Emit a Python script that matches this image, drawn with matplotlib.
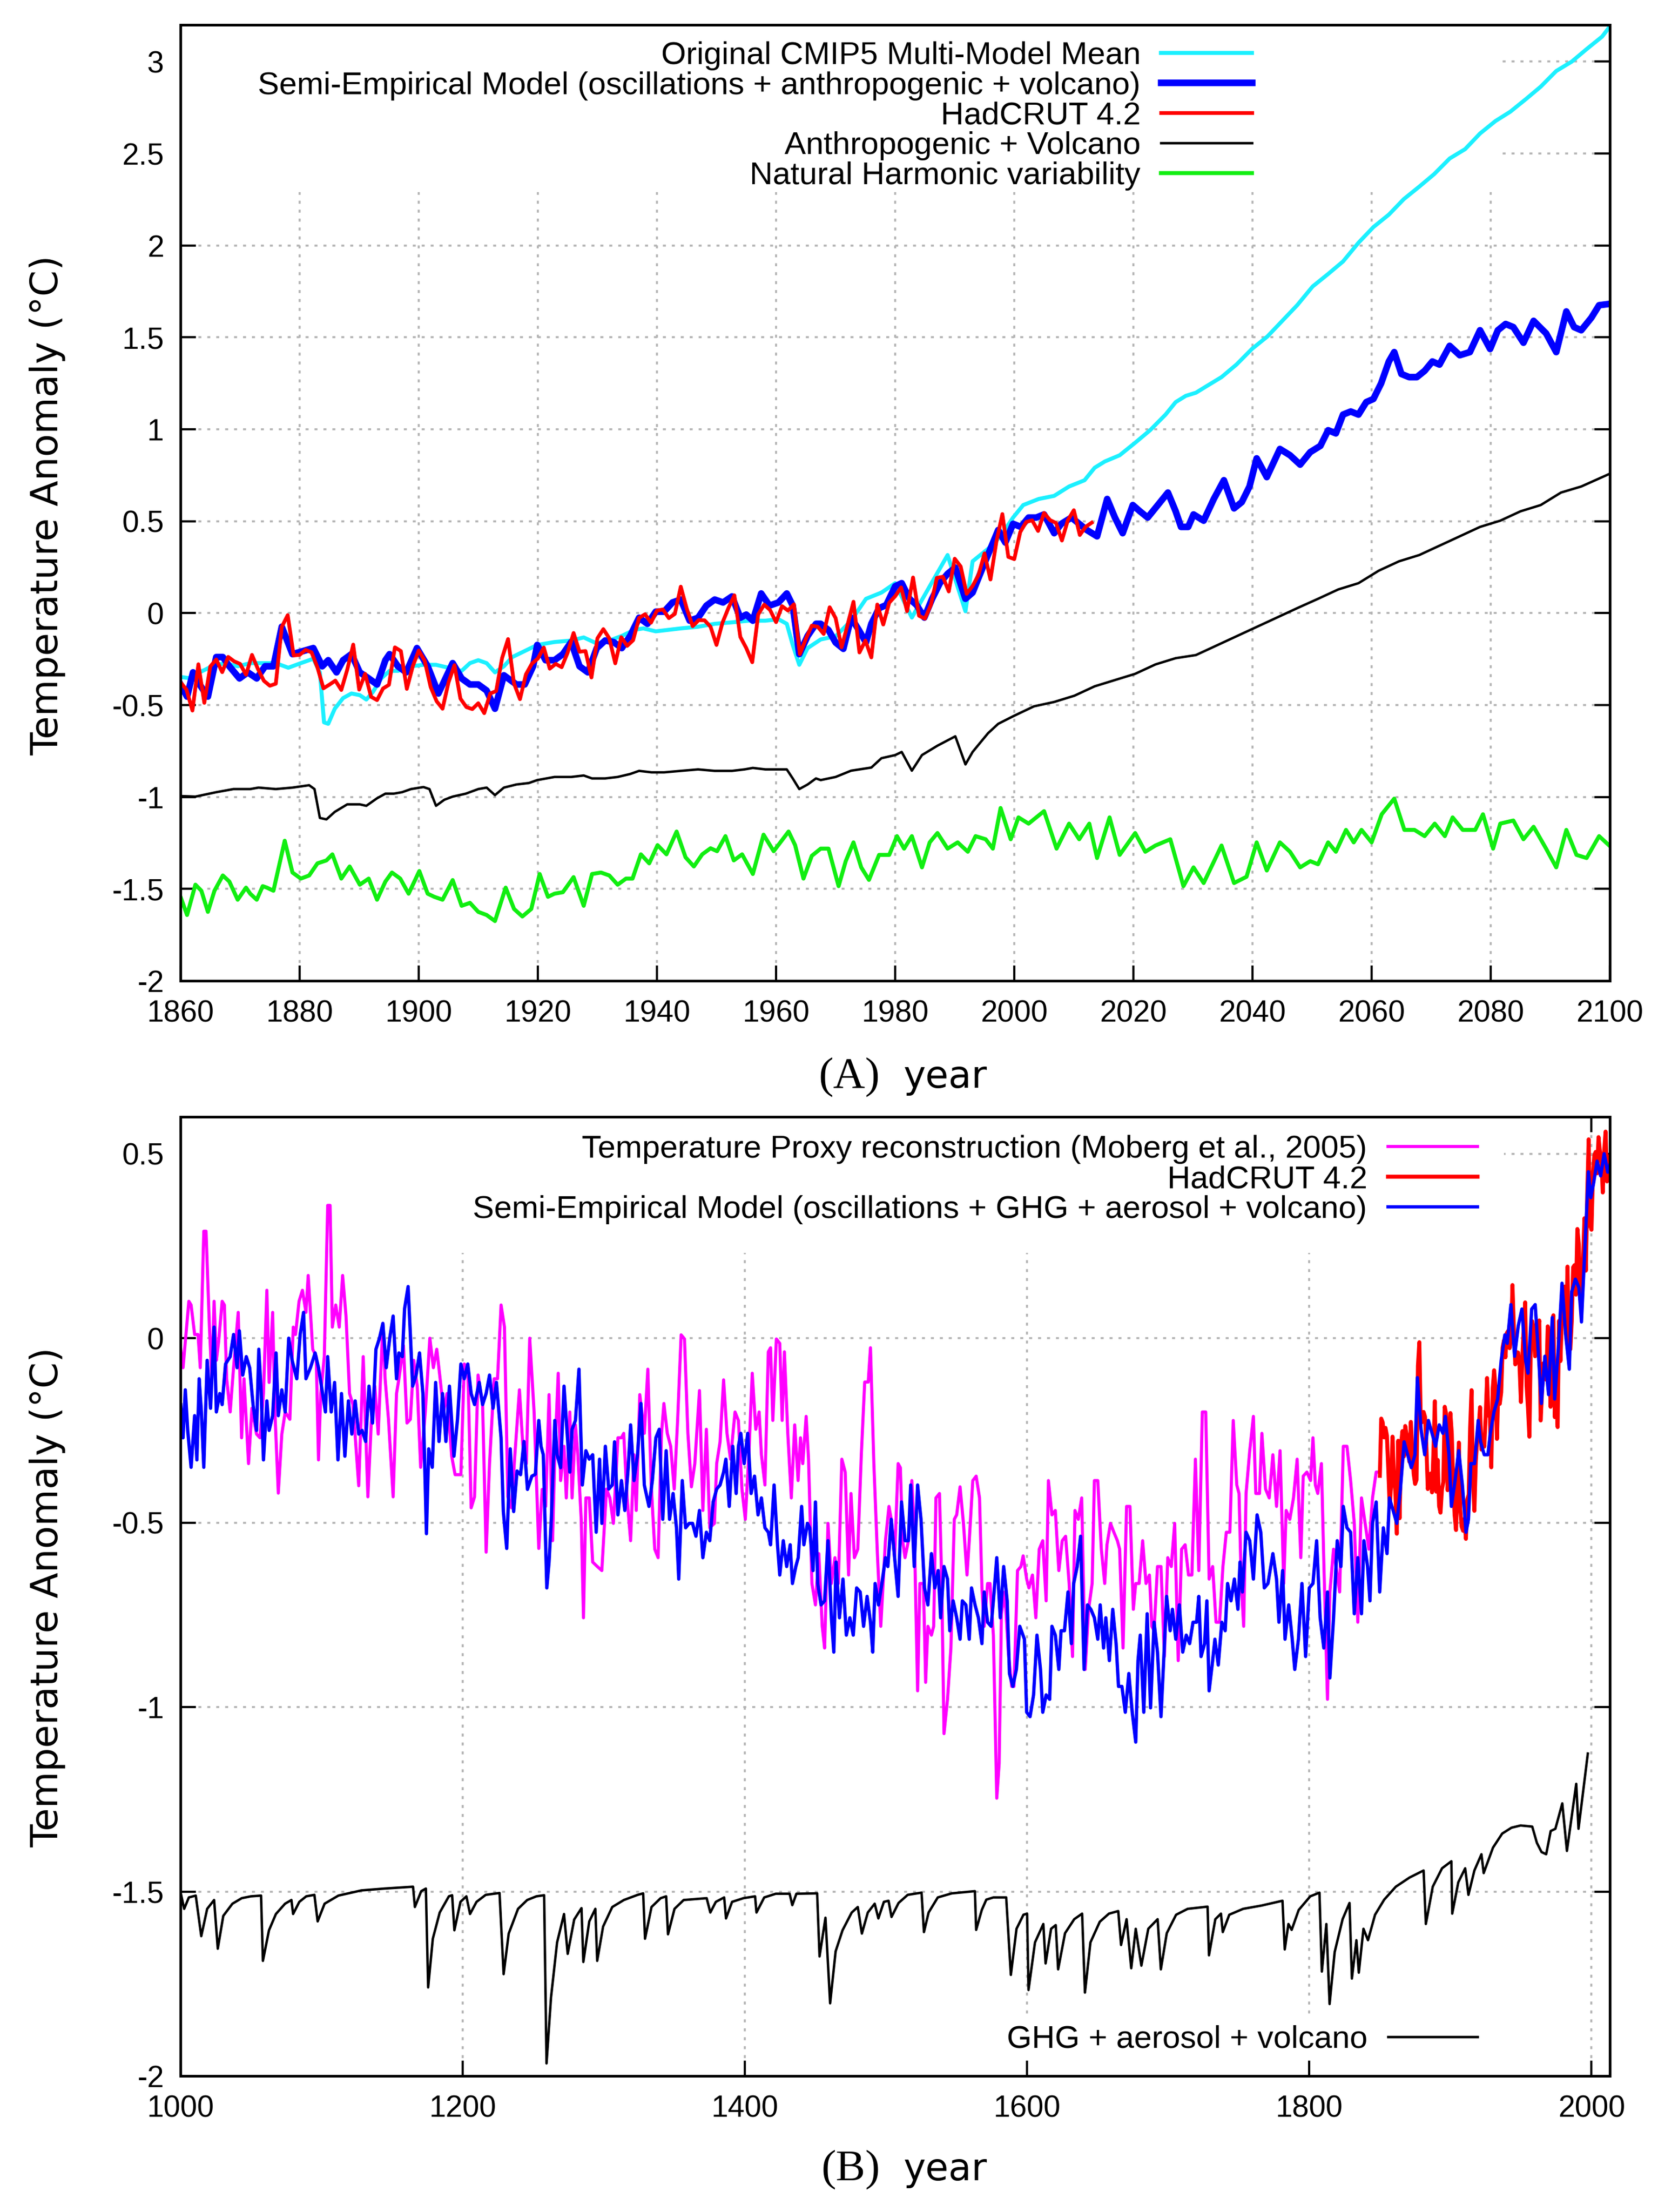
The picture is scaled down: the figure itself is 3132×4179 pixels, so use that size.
import matplotlib
matplotlib.use("Agg")
import matplotlib.pyplot as plt
from matplotlib.patches import Rectangle
from matplotlib.ticker import FixedLocator, FuncFormatter

plt.rcParams['axes.unicode_minus'] = False
plt.rcParams['font.family'] = ['Liberation Sans', 'DejaVu Sans']

# ------------------------------------------------------------------ data
# HadCRUT 4.2 annual global anomaly, 1850-2013
hadcrut_years = list(range(1850, 2014))
hadcrut_vals = [
    -0.373, -0.218, -0.228, -0.269, -0.243, -0.264, -0.354, -0.458, -0.395, -0.267,
    -0.376, -0.416, -0.530, -0.278, -0.488, -0.290, -0.252, -0.321, -0.238, -0.262,
    -0.276, -0.335, -0.227, -0.304, -0.368, -0.395, -0.384, -0.075, -0.011, -0.230,
    -0.227, -0.200, -0.213, -0.296, -0.409, -0.389, -0.367, -0.418, -0.307, -0.171,
    -0.416, -0.330, -0.455, -0.473, -0.410, -0.390, -0.186, -0.206, -0.412, -0.289,
    -0.203, -0.259, -0.402, -0.479, -0.520, -0.377, -0.283, -0.465, -0.511, -0.522,
    -0.490, -0.544, -0.437, -0.424, -0.244, -0.141, -0.383, -0.468, -0.333, -0.275,
    -0.247, -0.187, -0.302, -0.276, -0.294, -0.215, -0.108, -0.210, -0.206, -0.350,
    -0.137, -0.087, -0.137, -0.273, -0.131, -0.178, -0.147, -0.026, -0.006, -0.052,
    0.014, 0.020, -0.027, -0.004, 0.144, 0.025, -0.071, -0.038, -0.039, -0.074,
    -0.173, -0.052, 0.028, 0.097, -0.129, -0.190, -0.267, -0.007, 0.046, 0.017,
    -0.049, 0.038, 0.014, 0.048, -0.223, -0.140, -0.068, -0.074, -0.113, 0.032,
    -0.027, -0.186, -0.065, 0.062, -0.214, -0.149, -0.241, 0.047, -0.062, 0.057,
    0.092, 0.140, 0.011, 0.194, -0.014, -0.030, 0.045, 0.192, 0.198, 0.118,
    0.296, 0.254, 0.105, 0.148, 0.208, 0.325, 0.183, 0.390, 0.539, 0.306,
    0.294, 0.441, 0.496, 0.505, 0.447, 0.545, 0.506, 0.491, 0.395, 0.506,
    0.560, 0.425, 0.470, 0.492,
]

# Panel A: Original CMIP5 multi-model mean (year, value)
cmip5_mean = [
    (1860.0, -0.347), (1861.8, -0.355), (1863.2, -0.322), (1865.3, -0.289), (1867.4, -0.272),
    (1869.6, -0.289), (1871.7, -0.272), (1873.8, -0.272), (1876.0, -0.272), (1878.1, -0.297),
    (1880.2, -0.272), (1882.3, -0.248), (1883.4, -0.322), (1884.1, -0.594), (1884.8, -0.602),
    (1885.9, -0.520), (1887.3, -0.462), (1888.7, -0.437), (1890.1, -0.446), (1891.2, -0.470),
    (1892.3, -0.429), (1893.7, -0.355), (1895.1, -0.314), (1896.5, -0.314), (1898.7, -0.289),
    (1900.8, -0.281), (1902.9, -0.281), (1905.0, -0.297), (1907.2, -0.314), (1908.6, -0.272),
    (1910.0, -0.256), (1911.4, -0.272), (1912.8, -0.322), (1914.3, -0.289), (1915.7, -0.239),
    (1917.8, -0.206), (1919.9, -0.173), (1922.8, -0.157), (1925.6, -0.149), (1927.7, -0.132),
    (1929.9, -0.165), (1932.0, -0.149), (1934.1, -0.124), (1936.2, -0.091), (1937.7, -0.083),
    (1939.8, -0.099), (1941.9, -0.091), (1944.0, -0.083), (1946.9, -0.074), (1949.7, -0.058),
    (1952.6, -0.050), (1955.4, -0.041), (1958.2, -0.041), (1960.4, -0.033), (1961.8, -0.058),
    (1962.8, -0.173), (1963.9, -0.281), (1965.3, -0.190), (1967.5, -0.143), (1970.0, -0.126),
    (1972.6, -0.041), (1975.1, 0.078), (1977.7, 0.112), (1980.0, 0.163), (1982.8, -0.024),
    (1988.8, 0.316), (1991.8, 0.010), (1993.0, 0.282), (1995.6, 0.350), (1997.7, 0.418),
    (1999.8, 0.520), (2001.5, 0.588), (2004.1, 0.621), (2006.7, 0.638), (2009.2, 0.689),
    (2011.8, 0.723), (2013.5, 0.791), (2015.2, 0.825), (2017.7, 0.859), (2020.3, 0.927),
    (2022.8, 0.995), (2025.4, 1.080), (2027.1, 1.148), (2028.8, 1.182), (2030.5, 1.199),
    (2032.2, 1.233), (2034.8, 1.284), (2037.3, 1.352), (2039.9, 1.437), (2042.5, 1.505),
    (2045.0, 1.590), (2047.5, 1.675), (2050.1, 1.777), (2052.7, 1.845), (2055.2, 1.913),
    (2057.8, 2.015), (2060.3, 2.100), (2062.9, 2.168), (2065.4, 2.252), (2068.0, 2.320),
    (2070.5, 2.388), (2073.1, 2.473), (2075.7, 2.524), (2078.2, 2.609), (2080.8, 2.677),
    (2083.3, 2.728), (2085.9, 2.796), (2088.4, 2.864), (2091.0, 2.949), (2093.6, 3.000),
    (2096.1, 3.068), (2098.7, 3.136), (2099.9, 3.187),
]

# Panel A: semi-empirical model (oscillations + anthropogenic + volcano)
semi_model_a = [
    (1860.0, -0.388), (1861.1, -0.454), (1862.1, -0.322), (1863.2, -0.388), (1864.6, -0.454),
    (1866.0, -0.239), (1867.1, -0.239), (1868.2, -0.289), (1869.9, -0.355), (1871.3, -0.322),
    (1872.8, -0.355), (1874.2, -0.289), (1875.6, -0.289), (1877.0, -0.074), (1878.8, -0.223),
    (1880.6, -0.206), (1882.3, -0.190), (1883.8, -0.289), (1884.8, -0.256), (1886.2, -0.322),
    (1887.3, -0.256), (1888.7, -0.223), (1890.1, -0.322), (1891.6, -0.355), (1893.0, -0.388),
    (1894.4, -0.256), (1895.1, -0.223), (1896.5, -0.289), (1897.9, -0.322), (1899.7, -0.190),
    (1901.5, -0.289), (1903.3, -0.437), (1905.7, -0.272), (1907.2, -0.355), (1908.6, -0.388),
    (1910.0, -0.388), (1911.4, -0.421), (1912.8, -0.520), (1914.3, -0.338), (1916.4, -0.388),
    (1917.8, -0.388), (1919.2, -0.289), (1919.9, -0.173), (1921.3, -0.256), (1922.8, -0.256),
    (1924.2, -0.223), (1925.6, -0.157), (1927.0, -0.289), (1928.4, -0.322), (1929.9, -0.190),
    (1931.3, -0.149), (1932.7, -0.157), (1934.1, -0.190), (1935.5, -0.124), (1937.0, -0.025),
    (1938.4, -0.058), (1939.8, 0.008), (1941.2, 0.008), (1942.6, 0.058), (1944.0, 0.074),
    (1945.5, -0.041), (1946.9, -0.025), (1948.3, 0.041), (1949.7, 0.074), (1951.1, 0.058),
    (1952.6, 0.091), (1954.0, -0.025), (1955.0, -0.008), (1956.1, -0.041), (1957.5, 0.107),
    (1958.9, 0.041), (1960.4, 0.058), (1961.8, 0.107), (1962.8, 0.041), (1963.9, -0.223),
    (1965.3, -0.124), (1966.7, -0.058), (1967.5, -0.058), (1968.8, -0.092), (1970.0, -0.160),
    (1971.3, -0.194), (1972.6, -0.024), (1973.9, -0.092), (1975.1, -0.160), (1976.0, -0.058),
    (1977.3, 0.027), (1978.5, 0.044), (1980.0, 0.146), (1981.1, 0.163), (1982.4, 0.078),
    (1983.6, 0.044), (1984.9, -0.024), (1986.2, 0.078), (1987.5, 0.163), (1988.8, 0.214),
    (1990.1, 0.248), (1991.8, 0.078), (1993.0, 0.112), (1994.7, 0.248), (1996.0, 0.350),
    (1997.3, 0.452), (1998.5, 0.384), (1999.8, 0.486), (2001.1, 0.469), (2002.4, 0.520),
    (2003.7, 0.520), (2005.0, 0.537), (2006.7, 0.435), (2007.9, 0.486), (2009.6, 0.520),
    (2010.9, 0.486), (2012.2, 0.452), (2013.9, 0.418), (2015.6, 0.621), (2016.9, 0.520),
    (2018.2, 0.435), (2019.9, 0.588), (2021.1, 0.554), (2022.4, 0.520), (2024.1, 0.588),
    (2025.8, 0.656), (2027.1, 0.554), (2028.0, 0.469), (2029.2, 0.469), (2030.1, 0.537),
    (2031.8, 0.503), (2033.5, 0.621), (2035.2, 0.723), (2036.9, 0.570), (2038.2, 0.604),
    (2039.5, 0.689), (2040.7, 0.842), (2042.4, 0.740), (2044.6, 0.893), (2046.3, 0.859),
    (2048.0, 0.808), (2049.7, 0.876), (2051.4, 0.910), (2052.7, 0.995), (2054.0, 0.978),
    (2055.2, 1.080), (2056.5, 1.097), (2057.8, 1.080), (2059.1, 1.148), (2060.3, 1.165),
    (2061.6, 1.250), (2062.9, 1.369), (2063.8, 1.420), (2065.0, 1.301), (2066.3, 1.284),
    (2067.6, 1.284), (2068.9, 1.318), (2070.2, 1.369), (2071.4, 1.352), (2073.1, 1.454),
    (2074.8, 1.403), (2076.5, 1.420), (2078.2, 1.539), (2079.9, 1.437), (2081.2, 1.539),
    (2082.5, 1.573), (2083.8, 1.556), (2085.5, 1.471), (2087.2, 1.590), (2089.3, 1.522),
    (2091.0, 1.420), (2092.7, 1.641), (2094.0, 1.556), (2095.2, 1.539), (2096.9, 1.607),
    (2098.2, 1.675), (2099.9, 1.682),
]

# Panel A: anthropogenic + volcano
anthro_volcano = [
    (1860.0, -0.995), (1862.5, -0.998), (1866.0, -0.974), (1868.9, -0.957), (1871.7, -0.957),
    (1873.1, -0.949), (1876.0, -0.957), (1878.8, -0.949), (1881.6, -0.936), (1882.5, -0.957),
    (1883.4, -1.114), (1884.5, -1.122), (1885.9, -1.081), (1888.0, -1.040), (1890.1, -1.040),
    (1891.2, -1.048), (1893.0, -1.007), (1894.4, -0.982), (1895.8, -0.982), (1897.2, -0.974),
    (1898.7, -0.957), (1900.8, -0.946), (1901.8, -0.957), (1902.9, -1.048), (1904.3, -1.015),
    (1905.7, -0.998), (1907.9, -0.982), (1910.0, -0.957), (1911.4, -0.949), (1912.8, -0.990),
    (1914.3, -0.949), (1916.4, -0.932), (1918.5, -0.924), (1919.9, -0.908), (1922.8, -0.891),
    (1925.6, -0.891), (1927.7, -0.883), (1929.1, -0.899), (1931.3, -0.899), (1933.4, -0.891),
    (1935.5, -0.875), (1937.0, -0.858), (1939.1, -0.866), (1941.2, -0.866), (1944.0, -0.858),
    (1946.9, -0.850), (1949.7, -0.858), (1952.6, -0.858), (1954.7, -0.850), (1956.1, -0.842),
    (1958.2, -0.850), (1961.8, -0.850), (1962.8, -0.899), (1963.9, -0.957), (1965.3, -0.932),
    (1966.7, -0.899), (1967.5, -0.908), (1970.0, -0.891), (1972.6, -0.857), (1976.0, -0.840),
    (1977.7, -0.789), (1980.0, -0.772), (1981.1, -0.755), (1982.8, -0.857), (1984.5, -0.772),
    (1987.1, -0.721), (1990.1, -0.670), (1991.8, -0.823), (1993.0, -0.755), (1995.6, -0.653),
    (1997.3, -0.602), (1999.8, -0.561), (2003.3, -0.507), (2006.7, -0.483), (2010.1, -0.449),
    (2013.5, -0.398), (2016.9, -0.364), (2020.3, -0.330), (2023.7, -0.279), (2027.1, -0.245),
    (2030.5, -0.228), (2033.9, -0.177), (2037.3, -0.126), (2040.7, -0.075), (2044.1, -0.024),
    (2047.5, 0.027), (2051.0, 0.078), (2054.4, 0.129), (2057.8, 0.163), (2061.2, 0.231),
    (2064.6, 0.282), (2068.0, 0.316), (2071.4, 0.367), (2074.8, 0.418), (2078.2, 0.469),
    (2081.6, 0.503), (2085.0, 0.554), (2088.4, 0.588), (2091.8, 0.656), (2095.2, 0.689),
    (2099.9, 0.757),
]

# Panel A: natural harmonic variability (shifted)
harmonic = [
    (1860.0, -1.543), (1861.1, -1.642), (1862.5, -1.477), (1863.5, -1.510), (1864.6, -1.625),
    (1865.7, -1.510), (1867.1, -1.427), (1868.2, -1.460), (1869.6, -1.559), (1871.0, -1.493),
    (1871.7, -1.526), (1872.8, -1.559), (1873.8, -1.485), (1874.5, -1.493), (1875.6, -1.510),
    (1877.5, -1.238), (1878.8, -1.411), (1880.2, -1.444), (1881.6, -1.427), (1883.0, -1.361),
    (1884.5, -1.345), (1885.5, -1.312), (1887.0, -1.444), (1888.4, -1.378), (1890.1, -1.477),
    (1891.6, -1.444), (1893.0, -1.559), (1894.4, -1.460), (1895.5, -1.411), (1896.9, -1.444),
    (1898.3, -1.526), (1900.1, -1.403), (1901.5, -1.526), (1902.6, -1.543), (1904.0, -1.559),
    (1905.7, -1.452), (1907.2, -1.592), (1908.6, -1.576), (1910.0, -1.625), (1911.4, -1.642),
    (1912.8, -1.675), (1914.6, -1.493), (1916.0, -1.609), (1917.4, -1.650), (1918.9, -1.609),
    (1920.3, -1.419), (1921.7, -1.543), (1922.8, -1.526), (1924.2, -1.518), (1926.0, -1.436),
    (1927.7, -1.592), (1929.1, -1.419), (1930.6, -1.411), (1932.0, -1.427), (1933.4, -1.477),
    (1934.8, -1.444), (1935.9, -1.444), (1937.3, -1.312), (1938.7, -1.361), (1940.1, -1.262),
    (1941.6, -1.312), (1943.3, -1.188), (1944.8, -1.328), (1946.2, -1.378), (1947.6, -1.312),
    (1949.0, -1.279), (1950.1, -1.295), (1951.5, -1.213), (1952.9, -1.345), (1954.3, -1.312),
    (1956.1, -1.419), (1957.9, -1.205), (1959.6, -1.295), (1962.1, -1.188), (1963.2, -1.262),
    (1964.6, -1.444), (1966.0, -1.320), (1967.5, -1.281), (1968.8, -1.281), (1970.5, -1.485),
    (1971.7, -1.349), (1973.0, -1.247), (1974.3, -1.383), (1975.6, -1.451), (1977.3, -1.315),
    (1979.0, -1.315), (1980.3, -1.213), (1981.5, -1.281), (1982.8, -1.213), (1984.5, -1.383),
    (1985.8, -1.247), (1987.1, -1.196), (1988.8, -1.281), (1990.5, -1.247), (1992.2, -1.298),
    (1993.5, -1.213), (1995.2, -1.230), (1996.4, -1.281), (1997.7, -1.060), (1999.4, -1.230),
    (2000.7, -1.111), (2002.4, -1.145), (2005.0, -1.077), (2007.1, -1.281), (2009.2, -1.145),
    (2010.9, -1.230), (2012.6, -1.145), (2013.9, -1.332), (2016.0, -1.111), (2017.7, -1.315),
    (2020.3, -1.196), (2022.0, -1.298), (2023.7, -1.264), (2026.2, -1.230), (2028.4, -1.485),
    (2030.1, -1.383), (2031.8, -1.468), (2034.8, -1.264), (2036.9, -1.468), (2039.0, -1.434),
    (2040.7, -1.247), (2042.4, -1.400), (2044.6, -1.247), (2046.3, -1.298), (2048.0, -1.383),
    (2049.7, -1.349), (2051.0, -1.366), (2052.7, -1.247), (2054.0, -1.298), (2055.7, -1.179),
    (2057.0, -1.247), (2058.3, -1.179), (2060.0, -1.247), (2061.7, -1.094), (2063.8, -1.009),
    (2065.5, -1.179), (2067.2, -1.179), (2068.9, -1.213), (2070.6, -1.145), (2072.3, -1.213),
    (2073.6, -1.111), (2075.3, -1.179), (2077.4, -1.179), (2078.7, -1.094), (2080.4, -1.281),
    (2081.6, -1.145), (2083.8, -1.128), (2085.5, -1.230), (2087.2, -1.162), (2089.3, -1.281),
    (2091.0, -1.383), (2092.7, -1.179), (2094.4, -1.315), (2096.1, -1.332), (2098.2, -1.213),
    (2099.9, -1.264),
]

# Panel B: temperature proxy reconstruction (Moberg et al., 2005)
proxy_moberg = [
    (1000.2, -0.03), (1001.8, -0.08), (1005.9, 0.10), (1007.5, 0.09), (1010.0, 0.01),
    (1012.4, 0.01), (1014.0, -0.08), (1016.5, 0.29), (1018.1, 0.29), (1020.5, 0.03),
    (1022.2, -0.11), (1023.8, 0.10), (1025.4, -0.06), (1027.0, -0.01), (1029.5, 0.10),
    (1031.1, 0.09), (1032.7, -0.11), (1035.2, -0.20), (1037.6, -0.08), (1040.9, 0.07),
    (1043.3, -0.27), (1045.0, -0.11), (1048.2, -0.34), (1050.6, -0.19), (1053.9, -0.26),
    (1056.3, -0.27), (1058.8, -0.15), (1061.2, 0.13), (1062.8, -0.12), (1065.3, 0.07),
    (1066.9, -0.20), (1069.3, -0.42), (1071.8, -0.26), (1074.2, -0.20), (1077.5, -0.22),
    (1079.9, 0.03), (1081.5, 0.01), (1084.0, 0.10), (1086.4, 0.13), (1088.9, 0.07),
    (1090.5, 0.17), (1093.7, -0.03), (1096.2, -0.05), (1097.8, -0.33), (1099.4, -0.15),
    (1101.9, -0.05), (1104.3, 0.36), (1106.0, 0.36), (1107.6, 0.03), (1110.0, 0.09),
    (1112.5, 0.03), (1114.9, 0.17), (1117.3, 0.06), (1119.8, -0.15), (1122.2, -0.18),
    (1126.3, -0.40), (1129.5, -0.05), (1132.8, -0.43), (1135.2, -0.23), (1137.7, -0.13),
    (1140.1, -0.26), (1143.4, 0.04), (1145.0, -0.11), (1147.4, -0.22), (1150.7, -0.43),
    (1153.1, -0.15), (1154.8, -0.11), (1158.0, -0.02), (1160.5, -0.23), (1162.9, -0.22),
    (1165.3, -0.06), (1167.8, -0.13), (1170.2, -0.35), (1173.5, -0.20), (1176.7, 0.00),
    (1179.2, -0.08), (1181.6, -0.03), (1184.0, -0.11), (1186.5, -0.20), (1188.9, -0.15),
    (1192.2, -0.32), (1194.6, -0.37), (1198.7, -0.37), (1201.1, -0.07), (1203.6, -0.08),
    (1206.0, -0.46), (1208.4, -0.43), (1210.9, -0.10), (1214.1, -0.18), (1216.6, -0.58),
    (1219.0, -0.34), (1222.3, -0.11), (1224.7, -0.11), (1227.2, 0.09), (1229.6, 0.03),
    (1232.0, -0.43), (1234.5, -0.46), (1236.9, -0.32), (1240.2, -0.14), (1242.6, -0.29),
    (1245.1, -0.34), (1247.5, 0.00),
    (1250.6, -0.200), (1253.9, -0.570), (1256.3, -0.410), (1258.8, -0.456), (1261.2, -0.153),
    (1263.7, -0.549), (1265.3, -0.316), (1267.7, -0.095), (1269.4, -0.386), (1271.8, -0.293),
    (1273.4, -0.433), (1275.9, -0.200), (1277.5, -0.433), (1279.9, -0.235), (1281.6, -0.316),
    (1284.0, -0.491), (1285.6, -0.758), (1287.3, -0.433), (1289.7, -0.433), (1292.1, -0.607),
    (1295.4, -0.619), (1298.6, -0.630), (1301.9, -0.409), (1304.3, -0.433), (1306.8, -0.502),
    (1310.0, -0.270), (1312.5, -0.270), (1314.1, -0.258), (1316.5, -0.433), (1319.0, -0.549),
    (1321.4, -0.316), (1323.0, -0.467), (1325.5, -0.153), (1328.7, -0.258), (1331.2, -0.084),
    (1333.6, -0.398), (1336.1, -0.572), (1338.5, -0.595), (1340.9, -0.258), (1342.6, -0.177),
    (1345.0, -0.258), (1347.4, -0.293), (1349.9, -0.409), (1352.3, -0.223), (1354.8, 0.009),
    (1357.2, -0.002), (1359.6, -0.258), (1362.1, -0.403), (1364.5, -0.340), (1367.8, -0.142),
    (1370.2, -0.467), (1372.7, -0.247), (1375.1, -0.514), (1378.4, -0.502), (1380.0, -0.340),
    (1382.4, -0.281), (1384.9, -0.113), (1387.3, -0.258), (1389.8, -0.328), (1393.0, -0.200),
    (1395.4, -0.223), (1397.9, -0.409), (1400.3, -0.491), (1402.8, -0.316), (1405.2, -0.095),
    (1407.7, -0.247), (1410.1, -0.200), (1411.7, -0.316), (1414.2, -0.398), (1416.6, -0.037),
    (1418.2, -0.026), (1419.8, -0.223), (1422.3, -0.002), (1424.7, -0.014), (1426.4, -0.223),
    (1428.0, -0.037), (1430.4, -0.258), (1432.9, -0.433), (1435.3, -0.235), (1437.7, -0.386),
    (1439.4, -0.270), (1441.0, -0.340), (1443.4, -0.212), (1445.1, -0.328), (1447.5, -0.665),
    (1450.0, -0.723), (1452.4, -0.584), (1454.8, -0.781), (1456.5, -0.840), (1458.9, -0.502),
    (1461.3, -0.665), (1463.8, -0.595), (1466.2, -0.665), (1468.7, -0.328), (1471.1, -0.363),
    (1473.5, -0.642), (1475.2, -0.421), (1477.6, -0.595), (1480.0, -0.572), (1482.5, -0.316),
    (1484.9, -0.119), (1487.4, -0.119), (1489.0, -0.026), (1491.4, -0.340), (1493.9, -0.584),
    (1496.3, -0.781),
    (1499.6, -0.549), (1502.1, -0.456), (1503.7, -0.491), (1506.1, -0.595), (1508.6, -0.340),
    (1510.2, -0.351), (1511.8, -0.549), (1513.5, -0.595), (1515.9, -0.549), (1518.3, -0.386),
    (1520.0, -0.514), (1522.4, -0.956), (1524.0, -0.665), (1526.5, -0.665), (1528.1, -0.933),
    (1529.7, -0.781), (1532.2, -0.805), (1533.8, -0.781), (1535.4, -0.433), (1537.9, -0.421),
    (1539.5, -0.665), (1541.1, -1.072), (1543.6, -0.979), (1546.0, -0.840), (1548.4, -0.491),
    (1550.1, -0.479), (1552.5, -0.403), (1554.9, -0.502), (1557.4, -0.642), (1559.0, -0.549),
    (1561.5, -0.386), (1563.9, -0.374), (1566.3, -0.433), (1568.0, -0.677), (1569.6, -0.781),
    (1572.0, -0.665), (1573.7, -0.665), (1576.1, -0.805), (1578.5, -1.247), (1580.2, -1.153),
    (1581.8, -0.747), (1584.2, -0.688), (1586.7, -0.851), (1589.1, -0.944), (1590.7, -0.944),
    (1593.2, -0.630), (1595.6, -0.619), (1597.2, -0.590), (1599.7, -0.653), (1601.3, -0.677),
    (1603.8, -0.642), (1606.2, -0.758), (1608.6, -0.572), (1611.1, -0.549), (1613.5, -0.712),
    (1615.1, -0.386), (1617.6, -0.479), (1620.0, -0.467), (1622.5, -0.630), (1624.9, -0.549),
    (1627.3, -0.537), (1629.8, -0.665), (1632.2, -0.863), (1633.9, -0.467), (1636.3, -0.491),
    (1638.7, -0.433), (1641.2, -0.898), (1643.6, -0.735), (1646.1, -0.665), (1647.7, -0.386),
    (1650.1, -0.386), (1652.6, -0.572), (1655.0, -0.665), (1656.6, -0.560), (1659.1, -0.502),
    (1661.5, -0.526), (1664.0, -0.549), (1665.6, -0.572), (1668.0, -0.840), (1670.5, -0.456),
    (1672.9, -0.456), (1675.3, -0.735), (1677.0, -0.665), (1679.4, -0.665), (1681.9, -0.549),
    (1684.3, -0.665), (1686.7, -0.642), (1688.4, -0.781), (1690.0, -0.793), (1692.4, -0.619),
    (1694.9, -0.619), (1697.3, -0.863), (1699.7, -0.595), (1702.2, -0.619), (1704.6, -0.502),
    (1707.1, -0.874), (1709.5, -0.572), (1712.0, -0.560), (1714.4, -0.642), (1716.8, -0.642),
    (1719.3, -0.328), (1721.7, -0.630), (1724.2, -0.200), (1726.6, -0.200), (1729.0, -0.653),
    (1731.5, -0.619), (1733.9, -0.770), (1736.4, -0.770), (1738.8, -0.619), (1741.2, -0.526),
    (1743.7, -0.526), (1746.1, -0.223), (1748.6, -0.398), (1750.2, -0.421),
    (1751.8, -0.665), (1753.5, -0.781), (1755.2, -0.421), (1757.8, -0.305), (1760.4, -0.212),
    (1762.1, -0.421), (1764.7, -0.421), (1766.4, -0.258), (1769.0, -0.409), (1771.6, -0.433),
    (1774.2, -0.316), (1776.8, -0.456), (1779.3, -0.305), (1781.9, -0.665), (1783.6, -0.467),
    (1786.2, -0.491), (1788.8, -0.433), (1791.4, -0.328), (1794.0, -0.595), (1795.7, -0.374),
    (1798.3, -0.363), (1800.9, -0.386), (1802.6, -0.270), (1804.3, -0.398), (1806.0, -0.421),
    (1808.6, -0.340), (1810.3, -0.607), (1812.9, -0.979), (1814.6, -0.688), (1817.2, -0.572),
    (1819.8, -0.642), (1821.5, -0.688), (1824.1, -0.293), (1826.7, -0.293), (1829.3, -0.386),
    (1831.9, -0.502), (1834.4, -0.770), (1837.0, -0.433), (1839.6, -0.502), (1842.2, -0.572),
    (1844.8, -0.433), (1847.4, -0.363), (1849.1, -0.363),
]

# Panel B: semi-empirical model (oscillations + GHG + aerosol + volcano)
semi_model_b = [
    (1000.2, -0.18), (1001.8, -0.27), (1003.4, -0.14), (1005.1, -0.25), (1007.5, -0.35),
    (1010.0, -0.21), (1011.6, -0.33), (1013.2, -0.11), (1014.8, -0.20), (1016.5, -0.35),
    (1018.9, -0.06), (1021.3, -0.19), (1023.8, 0.03), (1025.4, -0.20), (1027.8, -0.15),
    (1029.5, -0.18), (1031.9, -0.07), (1035.2, -0.05), (1037.6, 0.01), (1040.1, -0.08),
    (1041.7, 0.02), (1044.1, -0.10), (1046.6, -0.05), (1049.0, -0.08), (1051.4, -0.18),
    (1053.9, -0.25), (1055.5, -0.03), (1057.1, -0.14), (1058.8, -0.33), (1061.2, -0.17),
    (1062.8, -0.25), (1065.3, -0.21), (1067.7, -0.04), (1069.3, -0.21), (1071.8, -0.14),
    (1074.2, -0.20), (1076.7, 0.00), (1079.1, -0.06), (1082.4, -0.11), (1084.8, 0.01),
    (1087.2, 0.07), (1088.9, -0.11), (1092.1, -0.08), (1095.4, -0.04), (1097.8, -0.08),
    (1100.3, -0.14), (1102.7, -0.20), (1104.3, -0.05), (1106.8, -0.20), (1109.2, -0.12),
    (1111.6, -0.33), (1114.1, -0.15), (1116.5, -0.32), (1119.0, -0.17), (1121.4, -0.26),
    (1123.8, -0.17), (1126.3, -0.26), (1128.7, -0.25), (1131.2, -0.28), (1133.6, -0.13),
    (1136.1, -0.23), (1138.5, -0.03), (1141.0, 0.00), (1143.4, 0.04), (1145.8, -0.08),
    (1148.3, 0.00), (1150.7, 0.06), (1153.1, -0.11), (1154.8, -0.04), (1157.2, -0.05),
    (1158.8, 0.08), (1161.3, 0.14), (1162.9, 0.01), (1164.5, -0.13), (1167.0, -0.10),
    (1169.4, -0.04), (1171.8, -0.15), (1174.3, -0.53), (1175.9, -0.30), (1178.4, -0.35),
    (1180.8, -0.12), (1183.2, -0.28), (1185.7, -0.15), (1188.1, -0.28), (1190.6, -0.13),
    (1193.8, -0.32), (1196.3, -0.22), (1198.7, -0.07), (1201.1, -0.11), (1203.6, -0.07),
    (1206.0, -0.15), (1208.4, -0.18), (1211.7, -0.12), (1214.1, -0.18), (1216.6, -0.15),
    (1219.0, -0.10), (1221.5, -0.19), (1223.9, -0.12), (1227.2, -0.27), (1228.8, -0.47),
    (1231.2, -0.57), (1233.7, -0.30), (1236.1, -0.47), (1238.5, -0.36), (1241.0, -0.37),
    (1243.4, -0.28), (1245.9, -0.41),
    (1249.0, -0.374), (1251.5, -0.369), (1253.9, -0.223), (1255.5, -0.293), (1257.1, -0.316),
    (1259.6, -0.677), (1261.2, -0.607), (1262.8, -0.491), (1265.3, -0.223), (1266.9, -0.316),
    (1269.4, -0.351), (1271.8, -0.130), (1273.4, -0.223), (1275.9, -0.363), (1277.5, -0.247),
    (1279.9, -0.223), (1282.4, -0.084), (1284.8, -0.398), (1287.3, -0.305), (1289.7, -0.328),
    (1292.1, -0.316), (1294.6, -0.526), (1297.0, -0.328), (1298.6, -0.502), (1301.1, -0.293),
    (1303.5, -0.409), (1306.0, -0.398), (1307.6, -0.281), (1310.0, -0.479), (1312.5, -0.386),
    (1314.9, -0.467), (1317.3, -0.351), (1319.0, -0.235), (1321.4, -0.386), (1323.9, -0.316),
    (1326.3, -0.177), (1328.7, -0.398), (1332.0, -0.456), (1334.4, -0.386), (1336.9, -0.270),
    (1339.3, -0.247), (1341.8, -0.491), (1344.2, -0.305), (1346.6, -0.491), (1349.1, -0.421),
    (1351.5, -0.514), (1353.1, -0.653), (1355.6, -0.386), (1358.0, -0.514), (1360.5, -0.502),
    (1362.9, -0.502), (1365.3, -0.537), (1367.8, -0.467), (1370.2, -0.595), (1372.7, -0.526),
    (1375.1, -0.549), (1377.5, -0.444), (1380.0, -0.409), (1382.4, -0.398), (1384.9, -0.363),
    (1386.5, -0.328), (1388.9, -0.456), (1391.4, -0.293), (1393.8, -0.421), (1395.4, -0.293),
    (1397.1, -0.258), (1399.5, -0.340), (1402.0, -0.258), (1404.4, -0.421), (1406.8, -0.374),
    (1409.3, -0.479), (1411.7, -0.433), (1414.2, -0.514), (1416.6, -0.526), (1418.2, -0.560),
    (1420.7, -0.398), (1423.1, -0.560), (1424.7, -0.642), (1427.2, -0.549), (1429.6, -0.619),
    (1432.1, -0.560), (1433.7, -0.665), (1436.1, -0.619), (1437.8, -0.595), (1440.2, -0.456),
    (1441.8, -0.560), (1444.3, -0.502), (1445.9, -0.514), (1448.3, -0.630), (1450.0, -0.444),
    (1451.6, -0.665), (1454.0, -0.723), (1456.5, -0.712), (1458.9, -0.549), (1461.3, -0.758),
    (1463.0, -0.851), (1464.6, -0.607), (1467.0, -0.758), (1469.5, -0.653), (1471.9, -0.805),
    (1474.4, -0.758), (1476.8, -0.805), (1479.2, -0.677), (1481.7, -0.688), (1484.1, -0.781),
    (1486.6, -0.700), (1489.0, -0.770), (1490.6, -0.851), (1492.3, -0.665), (1494.7, -0.723),
    (1497.1, -0.665),
    (1499.6, -0.595), (1501.3, -0.619), (1503.7, -0.491), (1506.1, -0.595), (1508.6, -0.700),
    (1511.0, -0.444), (1513.5, -0.549), (1515.9, -0.549), (1517.5, -0.398), (1520.0, -0.619),
    (1522.4, -0.398), (1524.8, -0.491), (1527.3, -0.677), (1529.7, -0.723), (1532.2, -0.584),
    (1534.6, -0.677), (1537.0, -0.630), (1538.7, -0.758), (1541.1, -0.619), (1543.6, -0.653),
    (1545.2, -0.793), (1547.6, -0.712), (1550.1, -0.758), (1552.5, -0.816), (1554.1, -0.712),
    (1556.6, -0.723), (1559.0, -0.816), (1560.6, -0.677), (1563.1, -0.723), (1565.5, -0.758),
    (1568.0, -0.828), (1569.6, -0.688), (1572.0, -0.770), (1574.5, -0.781), (1576.1, -0.712),
    (1578.5, -0.595), (1581.0, -0.758), (1583.4, -0.619), (1585.9, -0.712), (1587.5, -0.909),
    (1589.9, -0.944), (1592.4, -0.898), (1594.8, -0.781), (1598.1, -0.816), (1599.7, -1.014),
    (1602.1, -1.026), (1604.6, -0.967), (1607.0, -0.805), (1609.5, -0.898), (1611.1, -1.014),
    (1613.5, -0.967), (1616.0, -0.979), (1617.6, -0.781), (1620.0, -0.805), (1622.5, -0.898),
    (1624.1, -0.793), (1626.5, -0.793), (1629.0, -0.688), (1631.4, -0.828), (1633.0, -0.665),
    (1635.5, -0.619), (1637.9, -0.537), (1640.4, -0.898), (1642.8, -0.723), (1645.2, -0.735),
    (1647.7, -0.758), (1650.1, -0.816), (1651.8, -0.723), (1654.2, -0.840), (1655.8, -0.758),
    (1658.3, -0.874), (1660.7, -0.735), (1663.1, -0.828), (1664.8, -0.944), (1667.2, -0.944),
    (1669.6, -1.014), (1672.1, -0.909), (1674.5, -1.014), (1677.0, -1.095), (1678.6, -0.874),
    (1680.2, -0.805), (1682.7, -1.014), (1685.1, -0.747), (1687.5, -1.002), (1690.0, -0.770),
    (1692.4, -0.851), (1694.9, -1.026), (1696.5, -0.898), (1698.9, -0.700), (1701.4, -0.793),
    (1703.0, -0.735), (1705.4, -0.816), (1707.9, -0.723), (1710.3, -0.851), (1712.8, -0.805),
    (1715.2, -0.828), (1717.6, -0.770), (1720.1, -0.770), (1721.7, -0.700), (1723.3, -0.863),
    (1725.8, -0.828), (1727.4, -0.712), (1729.0, -0.956), (1731.5, -0.874), (1733.1, -0.816),
    (1735.5, -0.886), (1738.0, -0.770), (1740.4, -0.793), (1742.1, -0.665), (1744.5, -0.712),
    (1746.9, -0.653), (1749.4, -0.735),
    (1750.9, -0.607), (1752.6, -0.688), (1755.2, -0.526), (1757.8, -0.549), (1760.4, -0.653),
    (1763.0, -0.479), (1765.6, -0.526), (1768.1, -0.677), (1770.7, -0.665), (1774.2, -0.584),
    (1776.8, -0.653), (1778.5, -0.770), (1781.1, -0.630), (1782.8, -0.816), (1785.4, -0.723),
    (1787.9, -0.816), (1789.7, -0.898), (1792.3, -0.816), (1794.8, -0.665), (1797.4, -0.863),
    (1800.0, -0.677), (1802.6, -0.665), (1805.2, -0.549), (1807.7, -0.758), (1810.3, -0.840),
    (1812.9, -0.688), (1814.6, -0.921), (1817.2, -0.758), (1819.8, -0.549), (1822.4, -0.619),
    (1824.1, -0.456), (1826.7, -0.514), (1829.3, -0.526), (1831.9, -0.747), (1834.4, -0.595),
    (1837.0, -0.747), (1838.7, -0.549), (1841.3, -0.619), (1843.0, -0.712), (1844.8, -0.502),
    (1847.4, -0.444), (1849.9, -0.688), (1852.5, -0.514), (1855.1, -0.584), (1856.8, -0.433),
    (1859.4, -0.467), (1862.0, -0.502), (1864.6, -0.409), (1867.2, -0.281), (1869.7, -0.316),
    (1872.3, -0.351), (1874.9, -0.316), (1876.6, -0.107), (1879.2, -0.247), (1881.8, -0.316),
    (1884.4, -0.223), (1887.0, -0.258), (1889.5, -0.293), (1892.1, -0.235), (1894.7, -0.258),
    (1896.4, -0.212), (1899.0, -0.316), (1900.7, -0.456), (1903.3, -0.386), (1905.9, -0.305),
    (1908.5, -0.398), (1911.1, -0.526), (1912.8, -0.491), (1914.5, -0.340), (1917.1, -0.340),
    (1919.7, -0.223), (1921.4, -0.281), (1924.0, -0.316), (1926.6, -0.316), (1928.3, -0.258),
    (1930.9, -0.200), (1933.5, -0.165), (1936.0, -0.060), (1938.6, 0.009), (1940.3, -0.014),
    (1942.9, 0.091), (1945.5, -0.049), (1948.1, 0.033), (1950.7, 0.079), (1953.3, -0.060),
    (1955.0, -0.095), (1957.6, 0.079), (1960.1, 0.091), (1961.9, -0.014), (1964.5, -0.177),
    (1967.0, -0.049), (1969.6, -0.153), (1972.2, 0.056), (1973.9, -0.165), (1976.5, -0.026),
    (1979.1, 0.149), (1981.7, 0.009), (1984.3, -0.084), (1986.0, 0.126), (1988.6, 0.160),
    (1991.1, 0.137), (1992.9, 0.044), (1994.6, 0.184), (1997.8, 0.451), (1999.5, 0.381),
    (2001.5, 0.420), (2004.0, 0.480), (2006.5, 0.440), (2009.0, 0.500), (2011.5, 0.450),
    (2013.0, 0.470),
]

# Panel B: GHG + aerosol + volcano
ghg_aerosol_volcano = [
    (1000.0, -1.501), (1002.6, -1.547), (1005.9, -1.516), (1010.8, -1.511), (1014.7, -1.621),
    (1018.9, -1.547), (1023.8, -1.523), (1026.4, -1.655), (1030.3, -1.566), (1036.8, -1.533),
    (1043.4, -1.518), (1049.9, -1.513), (1057.1, -1.511), (1058.4, -1.688), (1062.7, -1.605),
    (1067.6, -1.561), (1074.1, -1.533), (1078.6, -1.523), (1079.8, -1.561), (1084.2, -1.528),
    (1089.1, -1.513), (1094.9, -1.509), (1097.2, -1.581), (1102.1, -1.533), (1111.9, -1.511),
    (1128.2, -1.497), (1144.5, -1.492), (1164.8, -1.487), (1166.1, -1.542), (1170.6, -1.499),
    (1173.9, -1.492), (1175.5, -1.760), (1178.8, -1.628), (1183.7, -1.557), (1190.2, -1.513),
    (1192.5, -1.510), (1194.1, -1.605), (1198.4, -1.528), (1202.6, -1.513), (1205.2, -1.561),
    (1209.8, -1.528), (1216.3, -1.509), (1226.1, -1.504), (1229.0, -1.724), (1232.6, -1.614),
    (1239.2, -1.547), (1245.7, -1.523), (1252.2, -1.513), (1257.7, -1.510), (1259.4, -1.966),
    (1262.6, -1.787), (1266.9, -1.638), (1271.8, -1.561), (1274.4, -1.669), (1279.0, -1.576),
    (1284.2, -1.545), (1285.5, -1.691), (1289.7, -1.581), (1294.0, -1.547), (1295.3, -1.688),
    (1299.5, -1.595), (1306.0, -1.542), (1314.2, -1.523), (1324.0, -1.509), (1327.9, -1.505),
    (1329.2, -1.628), (1333.8, -1.542), (1340.3, -1.518), (1344.2, -1.513), (1345.5, -1.616),
    (1350.1, -1.547), (1356.6, -1.523), (1372.9, -1.518), (1375.5, -1.557), (1379.4, -1.528),
    (1385.3, -1.516), (1386.6, -1.573), (1390.9, -1.528), (1399.0, -1.518), (1407.2, -1.513),
    (1408.2, -1.557), (1413.7, -1.516), (1421.9, -1.506), (1431.7, -1.506), (1433.6, -1.537),
    (1436.5, -1.506), (1451.2, -1.505), (1452.9, -1.676), (1457.1, -1.571), (1460.4, -1.803),
    (1464.3, -1.662), (1469.2, -1.605), (1475.7, -1.557), (1480.0, -1.542), (1482.9, -1.614),
    (1487.1, -1.557), (1492.0, -1.533), (1494.6, -1.573), (1498.5, -1.528), (1501.8, -1.525),
    (1503.9, -1.569), (1508.9, -1.531), (1515.4, -1.509), (1525.2, -1.503), (1526.9, -1.610),
    (1530.2, -1.557), (1536.7, -1.516), (1546.6, -1.505), (1563.0, -1.499), (1563.9, -1.604),
    (1567.9, -1.550), (1571.1, -1.522), (1576.1, -1.516), (1585.2, -1.516), (1588.5, -1.726),
    (1592.5, -1.601), (1597.4, -1.563), (1600.0, -1.560), (1601.0, -1.767), (1605.6, -1.638),
    (1611.5, -1.588), (1613.1, -1.695), (1617.0, -1.601), (1620.3, -1.591), (1622.0, -1.711),
    (1626.9, -1.613), (1633.4, -1.575), (1639.0, -1.560), (1641.0, -1.774), (1644.9, -1.638),
    (1651.5, -1.582), (1658.0, -1.560), (1664.6, -1.553), (1666.6, -1.645), (1670.5, -1.575),
    (1673.8, -1.708), (1677.0, -1.601), (1681.0, -1.701), (1685.9, -1.601), (1689.2, -1.588),
    (1692.5, -1.575), (1694.8, -1.711), (1699.0, -1.613), (1705.6, -1.563), (1713.8, -1.547),
    (1727.9, -1.541), (1728.9, -1.673), (1733.4, -1.575), (1737.4, -1.560), (1738.7, -1.610),
    (1743.3, -1.563), (1753.1, -1.547), (1766.2, -1.538), (1781.0, -1.525), (1782.6, -1.657),
    (1785.2, -1.588), (1787.5, -1.604), (1792.5, -1.550), (1800.7, -1.513), (1807.2, -1.503),
    (1808.9, -1.717), (1812.1, -1.588), (1814.4, -1.805), (1818.0, -1.664), (1823.6, -1.575),
    (1828.5, -1.531), (1830.2, -1.736), (1833.4, -1.632), (1835.1, -1.720), (1838.4, -1.601),
    (1841.6, -1.632), (1846.6, -1.563), (1853.1, -1.522), (1861.3, -1.487), (1871.1, -1.462),
    (1881.0, -1.443), (1882.6, -1.588), (1887.5, -1.487), (1894.1, -1.437), (1900.7, -1.418),
    (1901.3, -1.560), (1905.6, -1.475), (1910.5, -1.437), (1912.8, -1.509), (1917.0, -1.443),
    (1922.0, -1.399), (1923.6, -1.450), (1930.2, -1.381), (1936.7, -1.343), (1943.3, -1.327),
    (1949.8, -1.321), (1958.0, -1.324), (1961.3, -1.368), (1964.6, -1.393), (1967.9, -1.399),
    (1971.1, -1.336), (1974.4, -1.330), (1979.3, -1.261), (1982.6, -1.390), (1989.2, -1.208),
    (1990.8, -1.330), (1997.4, -1.126),
]

# Axis ticks
xticks_a = [1860, 1880, 1900, 1920, 1940, 1960, 1980, 2000, 2020, 2040, 2060, 2080, 2100]
yticks_a = [-2, -1.5, -1, -0.5, 0, 0.5, 1, 1.5, 2, 2.5, 3]
xticks_b = [1000, 1200, 1400, 1600, 1800, 2000]
yticks_b = [-2, -1.5, -1, -0.5, 0, 0.5]

labels_a = ["Original CMIP5 Multi-Model Mean",
            "Semi-Empirical Model (oscillations + anthropogenic + volcano)",
            "HadCRUT 4.2",
            "Anthropogenic + Volcano",
            "Natural Harmonic variability"]
labels_b = ["Temperature Proxy reconstruction (Moberg et al., 2005)",
            "HadCRUT 4.2",
            "Semi-Empirical Model (oscillations + GHG + aerosol + volcano)",
            "GHG + aerosol + volcano"]


def unzip(pairs):
    return [p[0] for p in pairs], [p[1] for p in pairs]


# ------------------------------------------------------------------ figure
W, H = 3132, 4179
fig = plt.figure(figsize=(W / 300, H / 300), dpi=300)
axA = fig.add_axes([341 / W, 1 - 1853 / H, 2700 / W, 1806 / H])
axB = fig.add_axes([341 / W, 1 - 3922 / H, 2700 / W, 1812 / H])

CYAN = '#1CF0FF'
BLUE = '#0000FF'
RED = '#FF0000'
GREEN = '#11EE11'
MAGENTA = '#FF00FF'
BLACK = '#000000'

TICKFONT = 13.7
LEGFONT = 14.5


def style(ax, xt, yt, xlim, ylim):
    ax.set_xlim(*xlim)
    ax.set_ylim(*ylim)
    ax.xaxis.set_major_locator(FixedLocator(xt))
    ax.yaxis.set_major_locator(FixedLocator(yt))
    fmt = FuncFormatter(lambda v, p: f'{v:g}')
    ax.xaxis.set_major_formatter(fmt)
    ax.yaxis.set_major_formatter(fmt)
    ax.tick_params(direction='in', length=7, width=1.0, top=True, right=True,
                   labelsize=TICKFONT, colors='black')
    ax.tick_params(axis='x', pad=8.5)
    ax.tick_params(axis='y', pad=7.5)
    ax.set_axisbelow(True)
    ax.grid(True, color='#b4b4b4', linestyle=(0, (1.5, 3)), linewidth=0.9)
    for s in ax.spines.values():
        s.set_linewidth(1.2)
        s.set_zorder(6)


# ---- Panel A
style(axA, xticks_a, yticks_a, (1860, 2100), (-2, 3.2))
axA.add_patch(Rectangle((0, 0.825), 0.921, 0.175, transform=axA.transAxes,
                        facecolor='white', edgecolor='none', zorder=1))
x, y = unzip(cmip5_mean)
axA.plot(x, y, color=CYAN, lw=1.8, label=labels_a[0], zorder=2)
x, y = unzip(semi_model_a)
axA.plot(x, y, color=BLUE, lw=3.0, label=labels_a[1], zorder=3)
axA.plot(hadcrut_years, hadcrut_vals, color=RED, lw=1.7, label=labels_a[2], zorder=4)
x, y = unzip(anthro_volcano)
axA.plot(x, y, color=BLACK, lw=1.1, label=labels_a[3], zorder=4)
x, y = unzip(harmonic)
axA.plot(x, y, color=GREEN, lw=1.8, label=labels_a[4], zorder=4)

axA.legend(loc='upper right', bbox_to_anchor=(0.7496, 0.983), frameon=False,
           markerfirst=False, handlelength=2.85, handletextpad=0.63,
           labelspacing=0.03, borderpad=0, borderaxespad=0,
           prop={'family': 'Liberation Sans', 'size': LEGFONT})

# ---- Panel B
style(axB, xticks_b, yticks_b, (1000, 2013), (-2, 0.6))
axB.add_patch(Rectangle((0, 0.858), 0.926, 0.142, transform=axB.transAxes,
                        facecolor='white', edgecolor='none', zorder=1))
x, y = unzip(proxy_moberg)
l1, = axB.plot(x, y, color=MAGENTA, lw=1.4, label=labels_b[0], zorder=2)
l2, = axB.plot(hadcrut_years, hadcrut_vals, color=RED, lw=1.8, label=labels_b[1], zorder=3)
x, y = unzip(semi_model_b)
l3, = axB.plot(x, y, color=BLUE, lw=1.5, label=labels_b[2], zorder=4)
x, y = unzip(ghg_aerosol_volcano)
l4, = axB.plot(x, y, color=BLACK, lw=1.1, label=labels_b[3], zorder=4)

legB1 = axB.legend(handles=[l1, l2, l3], loc='upper right', bbox_to_anchor=(0.9074, 0.981),
                   frameon=False, markerfirst=False, handlelength=2.8, handletextpad=0.65,
                   labelspacing=0.03, borderpad=0, borderaxespad=0,
                   prop={'family': 'Liberation Sans', 'size': LEGFONT})
axB.add_artist(legB1)
axB.legend(handles=[l4], loc='lower right', bbox_to_anchor=(0.912, 0.016),
           frameon=True, facecolor='white', edgecolor='none', framealpha=1,
           fancybox=False, markerfirst=False, handlelength=2.8, handletextpad=0.65,
           borderpad=0.2, borderaxespad=0,
           prop={'family': 'Liberation Sans', 'size': LEGFONT})

# ---- axis titles
ylab = 'Temperature Anomaly (°C)'
fig.text(90 / W, 1 - 955 / H, ylab, rotation=90, ha='center', va='center',
         fontsize=17, family='DejaVu Sans')
fig.text(90 / W, 1 - 3018 / H, ylab, rotation=90, ha='center', va='center',
         fontsize=17, family='DejaVu Sans')

for tag, base in (('(A)', 2055), ('(B)', 4119)):
    fig.text(1662 / W, 1 - base / H, tag, ha='right', va='baseline',
             fontsize=20, family='Liberation Serif')
    fig.text(1707 / W, 1 - base / H, 'year', ha='left', va='baseline',
             fontsize=17, family='DejaVu Sans')

fig.savefig('out.png', dpi=300)
